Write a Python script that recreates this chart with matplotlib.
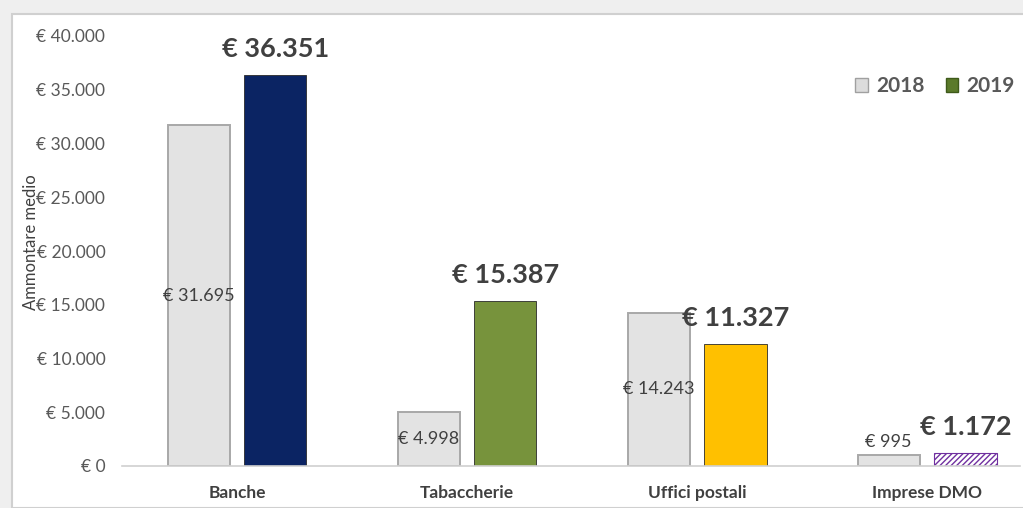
#!/usr/bin/env python3
# -*- coding: utf-8 -*-
"""Ammontare medio 2018 vs 2019 per canale."""

import matplotlib
matplotlib.use("Agg")
import matplotlib.pyplot as plt
from matplotlib.patches import Rectangle, Patch
import numpy as np

# --- dati ---
categories = ["Banche", "Tabaccherie", "Uffici postali", "Imprese DMO"]
values_2018 = [31695, 4998, 14243, 995]
values_2019 = [36351, 15387, 11327, 1172]
yticks = [0, 5000, 10000, 15000, 20000, 25000, 30000, 35000, 40000]


def eur(v):
    return "€ " + f"{v:,}".replace(",", ".")


plt.rcParams['font.family'] = ['Lato', 'DejaVu Sans']

W, H = 1023, 508
fig = plt.figure(figsize=(W / 100, H / 100), dpi=100)
fig.patch.set_facecolor('#efefef')

# cornice del grafico (bianca con bordo grigio)
fig.patches.append(Rectangle((12 / W, 0), 1.2, (H - 14) / H, transform=fig.transFigure,
                             facecolor='white', edgecolor='#d0d0d0', lw=1.5, zorder=-10))

ax = fig.add_axes([122 / W, 42 / H, (1020 - 122) / W, 430 / H])
ax.set_facecolor('none')
ax.set_zorder(1)

x = np.arange(len(categories))
off = 0.167
bw = 0.27

# colori 2019 per categoria
colors_2019 = ['#0b2463', '#77933c', '#ffc000', 'white']

ax.bar(x - off, values_2018, bw, color='#e3e3e3', edgecolor='#a8a8a8', lw=1.4, zorder=2)
bars19 = ax.bar(x + off, values_2019, bw, color=colors_2019, edgecolor='#2a2a2a', lw=0.6, zorder=2)
# Imprese DMO: tratteggio viola
bars19[3].set_hatch('//////')
bars19[3].set_edgecolor('#7030a0')
bars19[3].set_linewidth(0.8)

# etichette 2018
for i, v in enumerate(values_2018):
    if v > 3000:
        ax.text(x[i] - off, v / 2, eur(v), ha='center', va='center',
                fontsize=13, color='#404040', zorder=3)
    else:
        ax.text(x[i] - off, v + 500, eur(v), ha='center', va='bottom',
                fontsize=13, color='#404040', zorder=3)

# etichette 2019
for i, v in enumerate(values_2019):
    ax.text(x[i] + off, v + 1300, eur(v), ha='center', va='bottom',
            fontsize=19.5, fontweight='bold', color='#404040', zorder=3)

ax.set_xlim(-0.5, 3.404)
ax.set_ylim(0, 40000)
ax.set_yticks(yticks)
ax.set_yticklabels([eur(v) for v in yticks])
ax.set_xticks(x)
ax.set_xticklabels(categories, fontweight='bold')
ax.tick_params(axis='y', length=0, labelsize=12.5, labelcolor='#595959', pad=12)
ax.tick_params(axis='x', length=0, labelsize=12.5, labelcolor='#404040', pad=14)

for s in ['top', 'right', 'left']:
    ax.spines[s].set_visible(False)
ax.spines['bottom'].set_color('#d0d0d0')
ax.spines['bottom'].set_linewidth(1.2)

ax.set_ylabel("Ammontare medio", fontsize=12, color='#404040')
ax.yaxis.set_label_coords(-0.092, 0.52)

handles = [Patch(facecolor='#dcdcdc', edgecolor='#a0a0a0', label='2018'),
           Patch(facecolor='#5b7a2a', edgecolor='#3e5a1a', label='2019')]
leg = ax.legend(handles=handles, loc='upper right', bbox_to_anchor=(1.015, 0.95), ncol=2,
                frameon=False, handlelength=0.6, handleheight=0.6, handletextpad=0.4,
                columnspacing=1.0, prop={'weight': 'bold', 'size': 15})
for t in leg.get_texts():
    t.set_color('#595959')

fig.savefig("out.png", dpi=100, facecolor=fig.get_facecolor())
